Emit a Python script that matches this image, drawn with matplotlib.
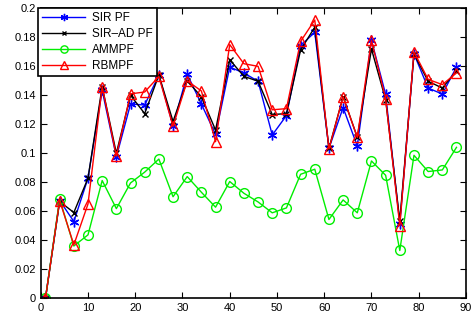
import matplotlib

matplotlib.use("Agg")
import matplotlib.pyplot as plt

plt.rcParams["font.family"] = ["Liberation Sans", "DejaVu Sans"]

x = [1, 4, 7, 10, 13, 16, 19, 22, 25, 28, 31, 34, 37, 40, 43,
     46, 49, 52, 55, 58, 61, 64, 67, 70, 73, 76, 79, 82, 85, 88]

sir_pf = [0.0, 0.0674, 0.0529, 0.0828, 0.1434, 0.0975, 0.134, 0.1333, 0.154, 0.119,
          0.1545, 0.134, 0.113, 0.1595, 0.1554, 0.1497, 0.1126, 0.126, 0.1743, 0.1835,
          0.1034, 0.1315, 0.105, 0.178, 0.1407, 0.0513, 0.1686, 0.145, 0.1409, 0.1595]
sir_ad_pf = [0.0, 0.0667, 0.0591, 0.0828, 0.146, 0.1, 0.14, 0.1274, 0.154, 0.122,
             0.150, 0.139, 0.116, 0.1645, 0.1531, 0.1497, 0.1267, 0.1274, 0.1713, 0.187,
             0.1034, 0.139, 0.111, 0.172, 0.137, 0.0533, 0.1686, 0.1497, 0.145, 0.157]
ammpf = [0.0, 0.0685, 0.036, 0.0437, 0.0812, 0.0618, 0.0795, 0.087, 0.096, 0.070,
         0.0839, 0.0731, 0.0628, 0.0805, 0.0724, 0.0664, 0.0589, 0.0623, 0.0855, 0.089,
         0.0543, 0.0678, 0.0589, 0.0947, 0.0848, 0.0329, 0.0986, 0.0874, 0.0885, 0.1041]
rbmpf = [0.0, 0.0674, 0.0368, 0.065, 0.146, 0.098, 0.141, 0.1423, 0.153, 0.1186,
         0.150, 0.143, 0.108, 0.175, 0.1618, 0.160, 0.130, 0.1308, 0.1772, 0.192,
         0.103, 0.139, 0.111, 0.178, 0.1377, 0.050, 0.170, 0.151, 0.1474, 0.1554]

fig = plt.figure(figsize=(4.74, 3.22), dpi=100)
ax = fig.add_axes([0.086, 0.074, 0.897, 0.9])

ax.plot(x, sir_pf, color="blue", marker=(6, 2, 0), ms=7, mew=1, lw=1, label="SIR PF")
ax.plot(x, sir_ad_pf, color="black", marker="x", ms=4, mew=1, lw=1, label="SIR\u2013AD PF")
ax.plot(x, ammpf, color="#00ee00", marker="o", ms=7, mfc="none", lw=1, label="AMMPF")
ax.plot(x, rbmpf, color="red", marker="^", ms=7.5, mfc="none", lw=1, label="RBMPF")

ax.set_xlim(0, 90)
ax.set_ylim(0, 0.2)
ax.set_xticks(range(0, 91, 10))
ax.set_yticks([0, 0.02, 0.04, 0.06, 0.08, 0.1, 0.12, 0.14, 0.16, 0.18, 0.2])
ax.set_yticklabels(["0", "0.02", "0.04", "0.06", "0.08", "0.1", "0.12",
                    "0.14", "0.16", "0.18", "0.2"])
ax.tick_params(direction="in", top=True, right=True, labelsize=8, length=4, width=0.8)
for s in ax.spines.values():
    s.set_linewidth(1.2)

leg = ax.legend(loc="upper left", bbox_to_anchor=(-0.006, 1.003), fontsize=8.5,
                borderaxespad=0, handlelength=3.6, handletextpad=0.6, markerscale=0.75,
                fancybox=False, framealpha=1, edgecolor="black",
                borderpad=0.35, labelspacing=0.35)
leg.get_frame().set_linewidth(1.2)

fig.savefig("out.png", dpi=100)
